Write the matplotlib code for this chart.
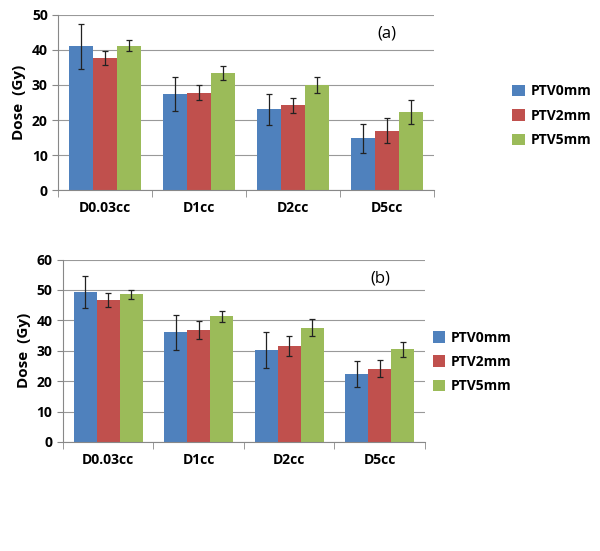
import numpy as np
import matplotlib.pyplot as plt

categories = ["D0.03cc", "D1cc", "D2cc", "D5cc"]
series = ["PTV0mm", "PTV2mm", "PTV5mm"]
colors = ["#4F81BD", "#C0504D", "#9BBB59"]

# panel (a)
a_ptv0 = [41.0, 27.5, 23.0, 14.8]
a_ptv2 = [37.8, 27.8, 24.2, 17.0]
a_ptv5 = [41.2, 33.4, 30.0, 22.3]
a_err0 = [6.5, 4.8, 4.5, 4.2]
a_err2 = [2.0, 2.2, 2.2, 3.5]
a_err5 = [1.6, 2.0, 2.3, 3.5]

# panel (b)
b_ptv0 = [49.4, 36.0, 30.2, 22.3]
b_ptv2 = [46.8, 36.7, 31.5, 24.0]
b_ptv5 = [48.5, 41.3, 37.6, 30.4]
b_err0 = [5.3, 5.7, 5.8, 4.4]
b_err2 = [2.3, 3.0, 3.4, 2.8]
b_err5 = [1.6, 1.7, 2.7, 2.5]

plt.rcParams['font.family'] = ['Open Sans', 'DejaVu Sans']

fig = plt.figure(figsize=(6, 5.51), dpi=100)


def draw_panel(rect, vals, errs, ymax, tag, leg_anchor):
    ax = fig.add_axes(rect)
    x = np.arange(len(categories))
    w = 0.255
    handles = []
    for i in range(3):
        h = ax.bar(x + (i - 1) * w, vals[i], w, color=colors[i], zorder=2,
                   label=series[i])
        ax.errorbar(x + (i - 1) * w, vals[i], yerr=errs[i], fmt='none',
                    ecolor='#222222', elinewidth=0.9, capsize=2.5,
                    capthick=0.9, zorder=3)
        handles.append(h)
    ax.set_xlim(-0.5, 3.5)
    ax.set_ylim(0, ymax)
    ax.set_yticks(np.arange(0, ymax + 1, 10))
    ax.yaxis.grid(True, color='#999999', linewidth=0.8, zorder=0)
    ax.set_axisbelow(True)
    for s in ['top', 'right']:
        ax.spines[s].set_visible(False)
    ax.spines['left'].set_color('#888888')
    ax.spines['bottom'].set_color('#888888')
    ax.set_xticks(x)
    ax.set_xticklabels(categories, fontweight='bold', fontsize=10)
    ax.tick_params(axis='x', length=0, pad=8)
    ax.set_xticks(np.arange(-0.5, 4.0, 1.0), minor=True)
    ax.tick_params(axis='x', which='minor', length=5, color='#888888')
    ax.tick_params(axis='y', length=4, color='#888888', labelsize=10)
    for t in ax.get_yticklabels():
        t.set_fontweight('bold')
    ax.set_ylabel("Dose  (Gy)", fontweight='bold', fontsize=11)
    ax.text(0.876, 0.895, tag, transform=ax.transAxes, fontsize=12,
            ha='center', va='center')
    fig.legend(handles=handles, labels=series, loc='center left',
               bbox_to_anchor=leg_anchor, frameon=False,
               prop={'weight': 'bold', 'size': 10},
               handlelength=0.9, handleheight=0.9, handletextpad=0.4,
               labelspacing=0.75)
    return ax


draw_panel([0.097, 0.655, 0.626, 0.318],
           [a_ptv0, a_ptv2, a_ptv5], [a_err0, a_err2, a_err5],
           50, "(a)", (0.833, 0.79))
draw_panel([0.105, 0.198, 0.603, 0.331],
           [b_ptv0, b_ptv2, b_ptv5], [b_err0, b_err2, b_err5],
           60, "(b)", (0.700, 0.343))

fig.savefig("out.png", dpi=100)
